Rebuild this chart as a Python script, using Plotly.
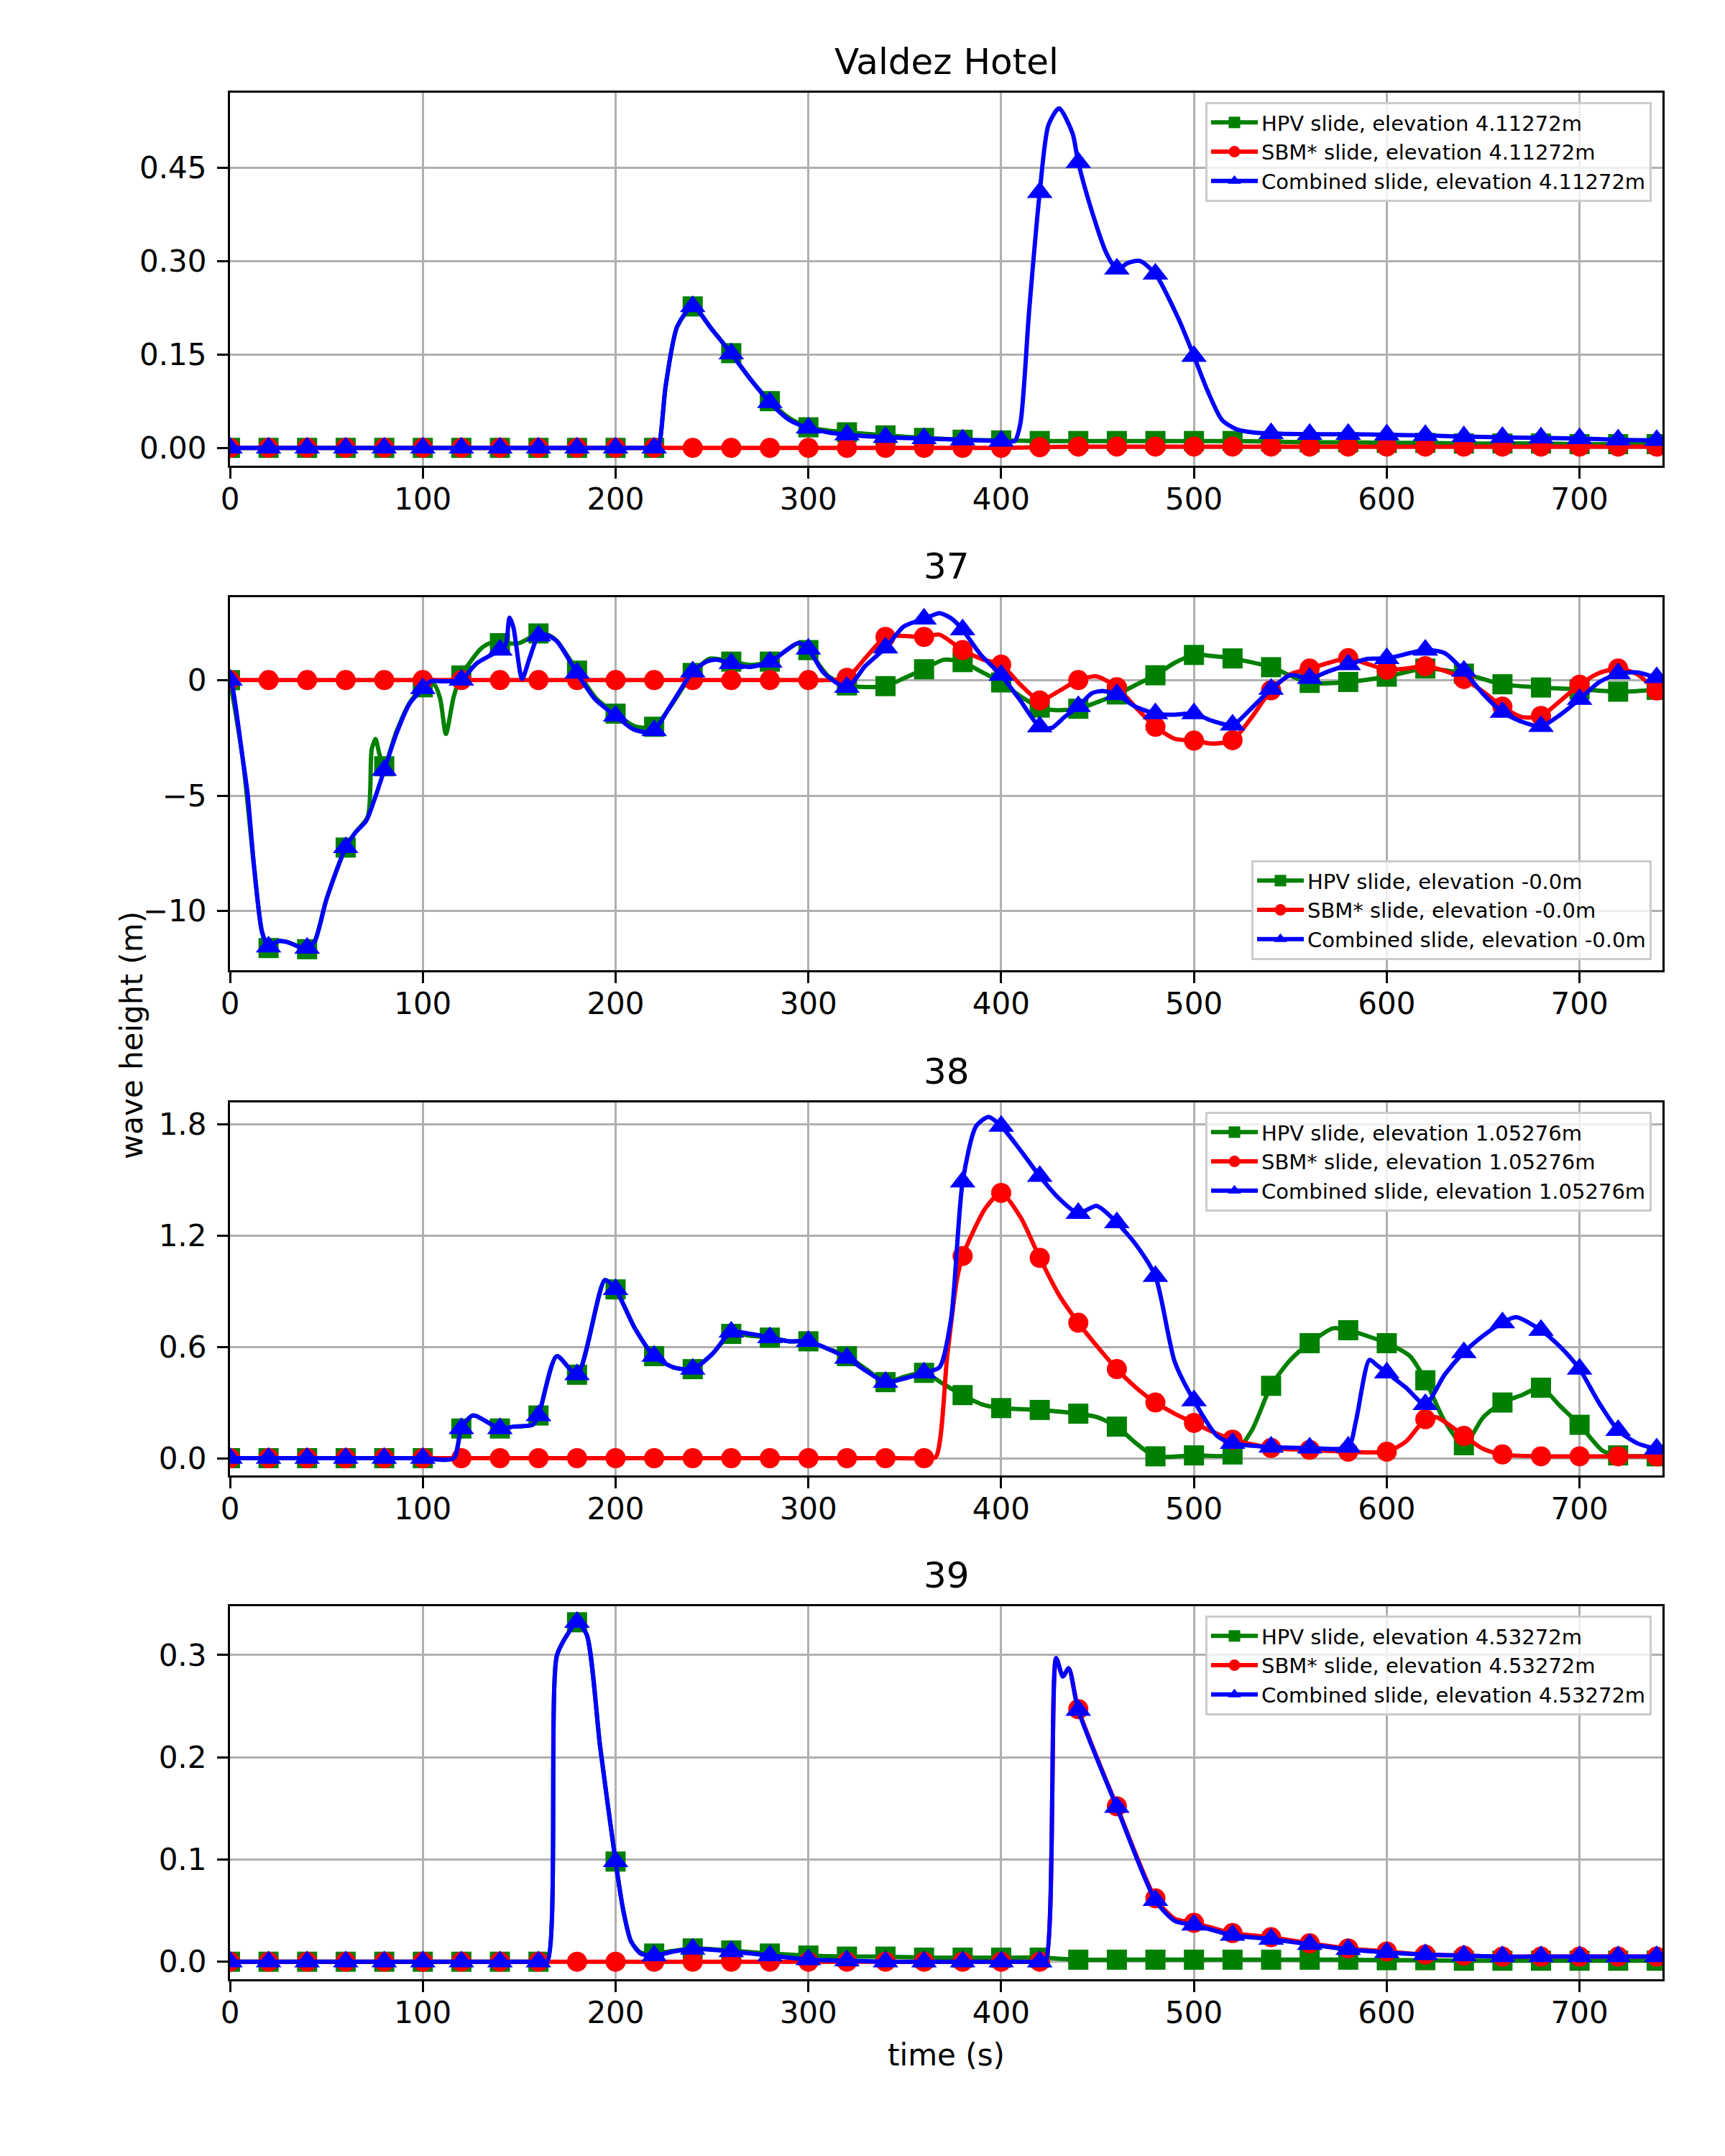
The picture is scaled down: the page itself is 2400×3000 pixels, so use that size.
import plotly.graph_objects as go

# ---------------- DATA ----------------
SERIES_NAMES = ["HPV slide", "SBM* slide", "Combined slide"]
PANEL_TITLES = ["Valdez Hotel", "37", "38", "39"]
ELEVATIONS = ["4.11272m", "-0.0m", "1.05276m", "4.53272m"]
X_TICKS = [0, 100, 200, 300, 400, 500, 600, 700]
Y_TICKVALS = [[0.0, 0.15, 0.30, 0.45], [0, -5, -10], [0.0, 0.6, 1.2, 1.8], [0.0, 0.1, 0.2, 0.3]]
Y_TICKTEXT = [["0.00", "0.15", "0.30", "0.45"], ["0", "\u22125", "\u221210"],
              ["0.0", "0.6", "1.2", "1.8"], ["0.0", "0.1", "0.2", "0.3"]]

# (time s, wave height m)
P1_HPV = [(0, 0), (20, 0), (40, 0), (60, 0), (80, 0), (100, 0), (120, 0), (140, 0), (160, 0), (180, 0),
          (200, 0), (220, 0), (222, 0), (226, 0.10), (232, 0.195), (240, 0.227), (250, 0.19), (260, 0.152),
          (270, 0.11), (280, 0.075), (290, 0.048), (300, 0.033), (310, 0.028), (320, 0.025), (340, 0.020),
          (360, 0.016), (380, 0.013), (400, 0.012), (420, 0.011), (440, 0.011), (460, 0.011), (480, 0.011),
          (500, 0.011), (520, 0.011), (540, 0.010), (560, 0.009), (580, 0.009), (600, 0.008), (620, 0.008),
          (640, 0.007), (660, 0.007), (680, 0.007), (700, 0.006), (720, 0.006), (740, 0.006), (743, 0.006)]
P1_SBM = [(0, 0), (20, 0), (40, 0), (60, 0), (80, 0), (100, 0), (120, 0), (140, 0), (160, 0), (180, 0),
          (200, 0), (220, 0), (240, 0), (260, 0), (280, 0), (300, 0), (320, 0), (340, 0), (360, 0), (380, 0),
          (400, 0), (420, 0.001), (440, 0.002), (460, 0.002), (480, 0.002), (500, 0.002), (520, 0.002),
          (540, 0.002), (560, 0.002), (580, 0.002), (600, 0.002), (620, 0.002), (640, 0.002), (660, 0.002),
          (680, 0.002), (700, 0.002), (720, 0.002), (740, 0.002), (743, 0.002)]
P1_COMB = [(0, 0), (20, 0), (40, 0), (60, 0), (80, 0), (100, 0), (120, 0), (140, 0), (160, 0), (180, 0),
           (200, 0), (220, 0), (222, 0), (226, 0.10), (232, 0.195), (240, 0.227), (250, 0.19), (260, 0.151),
           (270, 0.11), (280, 0.073), (290, 0.045), (300, 0.032), (310, 0.025), (320, 0.021), (340, 0.017),
           (360, 0.015), (380, 0.013), (400, 0.011), (407, 0.011), (410, 0.04), (414.5, 0.22), (420, 0.41),
           (424.5, 0.518), (430, 0.545), (437, 0.505), (440, 0.458), (447, 0.38), (454.5, 0.313), (460, 0.287),
           (466, 0.297), (472, 0.300), (480, 0.279), (492, 0.207), (500, 0.147), (507, 0.092), (514.5, 0.045),
           (522, 0.030), (530, 0.025), (540, 0.023), (560, 0.022), (580, 0.022), (600, 0.021), (620, 0.020),
           (640, 0.018), (660, 0.017), (680, 0.016), (700, 0.015), (720, 0.013), (740, 0.012), (743, 0.012)]

P2_HPV = [(0, 0), (6.6, -3.4), (12.5, -8.1), (16.6, -10.9), (20, -11.6), (25, -11.3), (30, -11.35),
          (36, -11.55), (40, -11.65), (44, -11.3), (50, -9.5), (60, -7.25), (65, -6.6), (71.5, -5.9),
          (73.5, -3.0), (75.5, -2.55), (77.5, -3.2), (80, -3.73), (86, -2.3), (93, -1.0), (100, -0.31),
          (106, -0.2), (109, -0.8), (112, -2.33), (116, -0.73), (120, 0.2), (130, 1.35), (135, 1.6),
          (140, 1.6), (150, 1.6), (160, 2.02), (166, 1.92), (170, 1.65), (180, 0.41), (190, -0.8),
          (200, -1.45), (210, -2.0), (220, -2.02), (230, -0.95), (240, 0.31), (249, 0.93), (260, 0.80),
          (270, 0.66), (280, 0.80), (295, 1.6), (300, 1.30), (310, 0.2), (320, -0.23), (330, -0.3),
          (340, -0.26), (350, 0.1), (360, 0.47), (370, 0.88), (380, 0.78), (390, 0.35), (400, -0.1),
          (410, -0.7), (420, -1.19), (429, -1.3), (440, -1.24), (450, -0.95), (460, -0.62), (470, -0.2),
          (480, 0.21), (490, 0.75), (500, 1.09), (510, 1.04), (520, 0.94), (540, 0.56), (550, 0.2),
          (560, -0.12), (580, -0.08), (600, 0.15), (620, 0.5), (640, 0.28), (660, -0.18), (680, -0.32),
          (700, -0.4), (720, -0.5), (740, -0.42), (743, -0.4)]
P2_SBM = [(0, 0), (20, 0), (40, 0), (60, 0), (80, 0), (100, 0), (120, 0), (140, 0), (160, 0), (180, 0),
          (200, 0), (220, 0), (240, 0), (260, 0), (280, 0), (300, 0), (310, 0), (320, 0.1), (330, 1.0),
          (340, 1.87), (348, 1.92), (360, 1.87), (368, 1.97), (380, 1.3), (391, 0.88), (400, 0.67),
          (410, -0.2), (420, -0.88), (429, -0.52), (440, 0), (449.5, 0.16), (460, -0.31), (470, -1.2),
          (480, -2.02), (490, -2.54), (500, -2.62), (510, -2.75), (520, -2.6), (530, -1.6), (540, -0.44),
          (550, 0.25), (560, 0.5), (570, 0.75), (580, 0.95), (590, 0.7), (600, 0.45), (610, 0.5),
          (620, 0.6), (630, 0.4), (640, 0.05), (650, -0.5), (660, -1.15), (670, -1.6), (680, -1.55),
          (690, -0.9), (700, -0.2), (710, 0.3), (720, 0.5), (730, 0.25), (740, -0.45), (743, -0.55)]
P2_COMB = [(0, 0), (1.3, -0.3), (6.6, -3.4), (9.1, -4.9), (12.5, -8.1), (16.6, -10.9), (20, -11.55),
           (25, -11.3), (30, -11.35), (36, -11.55), (40, -11.6), (44, -11.3), (50, -9.5), (60, -7.25),
           (65, -6.6), (70.6, -6.1), (74.8, -5.2), (80, -3.9), (86.4, -2.3), (93, -1.04), (100, -0.36),
           (104, -0.05), (110, -0.05), (116, -0.05), (120, 0), (128, 0.73), (140, 1.3), (143, 1.55),
           (145, 2.7), (147, 2.28), (151.5, 0.05), (155.3, 0.93), (160, 1.92), (163.6, 1.97), (169.4, 1.7),
           (180, 0.31), (189.4, -0.83), (200, -1.55), (209, -2.12), (216, -2.26), (220, -2.18), (229, -1.04),
           (240, 0.36), (247.5, 0.81), (252.5, 0.88), (260, 0.72), (269, 0.57), (280, 0.78), (294.7, 1.61),
           (300, 1.35), (308, 0.31), (320, -0.31), (329.6, 0.62), (340, 1.4), (349.6, 2.33), (360, 2.65),
           (368, 2.9), (374.5, 2.65), (380, 2.18), (389.5, 1.09), (400, 0.21), (409.5, -0.83), (420, -2.02),
           (426.3, -2.07), (432.8, -1.6), (440, -1.14), (447, -0.57), (452.7, -0.47), (460, -0.62),
           (469.4, -1.14), (480, -1.45), (489.4, -1.5), (500, -1.45), (509.3, -1.76), (520, -1.94),
           (530, -1.2), (540, -0.39), (550, 0.22), (560, 0.08), (570, 0.39), (580, 0.67), (590, 0.92),
           (600, 0.94), (620, 1.3), (630, 1.17), (640, 0.39), (650, -0.6), (660, -1.39), (670, -1.8),
           (680, -2.0), (690, -1.5), (700, -0.83), (710, -0.1), (720, 0.28), (730, 0.33), (740, 0.11),
           (743, 0.05)]

P3_HPV = [(0, 0), (20, 0), (40, 0), (60, 0), (80, 0), (100, 0), (116, 0), (120, 0.16), (126, 0.23),
          (140, 0.16), (147, 0.17), (157, 0.18), (160, 0.23), (169.5, 0.55), (180, 0.45), (194.5, 0.96),
          (200, 0.91), (210, 0.7), (220, 0.55), (230, 0.49), (240, 0.48), (250, 0.56), (260, 0.67),
          (270, 0.66), (280, 0.65), (290, 0.63), (300, 0.63), (310, 0.59), (320, 0.55), (330, 0.48),
          (340, 0.41), (350, 0.44), (360, 0.46), (370, 0.40), (380, 0.34), (390, 0.29), (400, 0.27),
          (420, 0.26), (440, 0.24), (450, 0.22), (460, 0.17), (470, 0.08), (480, 0.01), (500, 0.015),
          (520, 0.02), (530, 0.15), (540, 0.39), (550, 0.53), (560, 0.62), (572, 0.70), (580, 0.69),
          (600, 0.62), (612, 0.55), (620, 0.42), (630, 0.2), (640, 0.07), (650, 0.22), (660, 0.30),
          (670, 0.34), (680, 0.38), (690, 0.28), (700, 0.18), (712, 0.04), (720, 0.015), (740, 0.01),
          (743, 0.01)]
P3_SBM = [(0, 0), (20, 0), (40, 0), (60, 0), (80, 0), (100, 0), (120, 0), (140, 0), (160, 0), (180, 0),
          (200, 0), (220, 0), (240, 0), (260, 0), (280, 0), (300, 0), (320, 0), (340, 0), (360, 0),
          (366, 0.005), (372, 0.55), (377, 0.96), (380, 1.09), (392, 1.35), (400, 1.43), (410, 1.3),
          (420, 1.08), (430, 0.88), (440, 0.73), (450, 0.6), (460, 0.48), (470, 0.38), (480, 0.30),
          (490, 0.24), (500, 0.19), (510, 0.14), (520, 0.10), (540, 0.055), (560, 0.045), (580, 0.035),
          (600, 0.035), (610, 0.09), (620, 0.21), (626, 0.22), (640, 0.12), (650, 0.05), (660, 0.02),
          (680, 0.01), (700, 0.01), (720, 0.01), (740, 0.01), (743, 0.01)]
P3_COMB = [(0, 0), (20, 0), (40, 0), (60, 0), (80, 0), (100, 0), (116, 0), (120, 0.16), (126, 0.23),
           (140, 0.16), (147, 0.17), (157, 0.18), (160, 0.23), (169.5, 0.55), (180, 0.45), (194.5, 0.96),
           (200, 0.91), (210, 0.7), (220, 0.55), (230, 0.49), (240, 0.48), (250, 0.56), (260, 0.68),
           (270, 0.67), (280, 0.65), (290, 0.63), (300, 0.63), (310, 0.59), (320, 0.54), (330, 0.47),
           (340, 0.41), (350, 0.43), (360, 0.46), (368, 0.49), (374, 0.75), (380, 1.49), (387, 1.79),
           (393.5, 1.84), (400, 1.79), (410, 1.66), (420, 1.52), (430, 1.4), (440, 1.32), (449.5, 1.36),
           (460, 1.27), (470, 1.15), (480, 0.98), (490, 0.52), (500, 0.31), (512, 0.12), (520, 0.08),
           (540, 0.06), (560, 0.055), (580, 0.06), (584, 0.2), (591, 0.53), (595, 0.5), (600, 0.46),
           (610, 0.38), (620, 0.29), (630, 0.45), (640, 0.57), (650, 0.66), (660, 0.73), (667, 0.76),
           (680, 0.69), (690, 0.6), (700, 0.48), (710, 0.3), (720, 0.15), (730, 0.08), (740, 0.05),
           (743, 0.045)]

P4_HPV = [(0, 0), (20, 0), (40, 0), (60, 0), (80, 0), (100, 0), (120, 0), (140, 0), (160, 0), (164.5, 0),
          (169.5, 0.299), (175, 0.32), (180, 0.332), (185, 0.32), (192, 0.21), (200, 0.098), (204, 0.05),
          (208, 0.02), (213, 0.009), (220, 0.008), (240, 0.013), (260, 0.011), (280, 0.008), (300, 0.006),
          (320, 0.005), (340, 0.005), (360, 0.004), (380, 0.004), (400, 0.004), (420, 0.004), (440, 0.002),
          (460, 0.002), (480, 0.002), (500, 0.002), (520, 0.002), (540, 0.002), (560, 0.002), (580, 0.002),
          (600, 0.0015), (620, 0.0015), (640, 0.001), (660, 0.001), (680, 0.001), (700, 0.001),
          (720, 0.001), (740, 0.001), (743, 0.001)]
P4_SBM = [(0, 0), (20, 0), (40, 0), (60, 0), (80, 0), (100, 0), (120, 0), (140, 0), (160, 0), (180, 0),
          (200, 0), (220, 0), (240, 0), (260, 0), (280, 0), (300, 0), (320, 0), (340, 0), (360, 0), (380, 0),
          (400, 0), (420, 0), (423, 0), (428.5, 0.297), (432, 0.279), (435, 0.287), (440, 0.247),
          (460, 0.152), (480, 0.062), (490, 0.042), (500, 0.038), (520, 0.028), (540, 0.024), (560, 0.018),
          (580, 0.013), (600, 0.010), (620, 0.007), (640, 0.006), (660, 0.005), (680, 0.005), (700, 0.005),
          (720, 0.005), (740, 0.005), (743, 0.005)]
P4_COMB = [(0, 0), (20, 0), (40, 0), (60, 0), (80, 0), (100, 0), (120, 0), (140, 0), (160, 0), (164.5, 0),
           (169.5, 0.299), (175, 0.32), (180, 0.332), (185, 0.32), (192, 0.21), (200, 0.098), (204, 0.05),
           (208, 0.02), (213, 0.008), (220, 0.006), (230, 0.010), (240, 0.0125), (260, 0.010), (280, 0.006),
           (300, 0.002), (320, 0.001), (340, 0), (360, 0), (380, 0), (400, 0), (420, 0), (423, 0),
           (428.5, 0.297), (432, 0.279), (435, 0.287), (440, 0.246), (460, 0.151), (480, 0.060),
           (490, 0.040), (500, 0.036), (520, 0.026), (540, 0.022), (560, 0.017), (580, 0.012), (600, 0.009),
           (620, 0.007), (640, 0.006), (660, 0.005), (680, 0.005), (700, 0.005), (720, 0.005), (740, 0.005),
           (743, 0.005)]

PANELS = [(P1_HPV, P1_SBM, P1_COMB), (P2_HPV, P2_SBM, P2_COMB),
          (P3_HPV, P3_SBM, P3_COMB), (P4_HPV, P4_SBM, P4_COMB)]

# ---------------- STYLE / LAYOUT ----------------
OFF = 8  # page body margin: screen px = figure px + OFF
W, H = 2400, 3000
ML, MR, MT, MB = 320 - OFF, 95, 129 - OFF, 254
PH = H - MT - MB
PW = W - ML - MR
PANEL_TOPS = [129, 831, 1534, 2235]  # screen px
PANEL_H = 519
X_RANGE = [0, 743]
Y_RANGES = [[-0.0286, 0.570], [-12.56, 3.59], [-0.093, 1.918], [-0.0171, 0.3477]]
COLORS = ["#008000", "#ff0000", "#0000ff"]
SYMBOLS = ["square", "circle", "triangle-up"]
MSIZES = [28, 28, 31]
FONT = "DejaVu Sans"
LW = 6


def py(screen_pix):
    return 1 - (screen_pix - OFF - MT) / PH


def px(screen_pix):
    return (screen_pix - OFF - ML) / PW


fig = go.Figure()
layout = dict(width=W, height=H, margin=dict(l=ML, r=MR, t=MT, b=MB, autoexpand=False),
              paper_bgcolor="white", plot_bgcolor="white", font=dict(family=FONT, color="black"))
annotations = []
legend_pos = [(py(142), "top"), (py(1336), "bottom"), (py(1547), "top"), (py(2248), "top")]

for i, series in enumerate(PANELS):
    k = "" if i == 0 else str(i + 1)
    xa, ya = "x" + k, "y" + k
    lg = "legend" + k
    for j, data in enumerate(series):
        ts = [p[0] for p in data]
        vs = [p[1] for p in data]
        mk = [p for p in data if p[0] % 20 == 0 and p[0] <= 740]
        fig.add_trace(go.Scatter(x=ts, y=vs, mode="lines", xaxis=xa, yaxis=ya, showlegend=False,
                                 line=dict(color=COLORS[j], width=LW, shape="spline", smoothing=0.7),
                                 hoverinfo="skip"))
        fig.add_trace(go.Scatter(x=[p[0] for p in mk], y=[p[1] for p in mk], mode="markers",
                                 xaxis=xa, yaxis=ya, showlegend=False,
                                 marker=dict(color=COLORS[j], symbol=SYMBOLS[j], size=MSIZES[j],
                                             line=dict(width=0))))
    for j in range(3):
        fig.add_trace(go.Scatter(x=[None], y=[None], mode="lines+markers", xaxis=xa, yaxis=ya,
                                 name=f"{SERIES_NAMES[j]}, elevation {ELEVATIONS[i]}", legend=lg,
                                 line=dict(color=COLORS[j], width=LW),
                                 marker=dict(color=COLORS[j], symbol=SYMBOLS[j], size=MSIZES[j])))
    top = PANEL_TOPS[i]
    dom = [py(top + PANEL_H), py(top)]
    axis_common = dict(showline=True, mirror=True, linecolor="black", linewidth=3.3,
                       ticks="outside", ticklen=15, tickwidth=3.3, tickcolor="black",
                       showgrid=True, gridcolor="#b0b0b0", gridwidth=3.3, zeroline=False,
                       tickfont=dict(family=FONT, size=42, color="black"))
    layout["xaxis" + k] = dict(axis_common, domain=[0, 1], anchor=ya, range=X_RANGE,
                               tickvals=X_TICKS, ticktext=[str(v) for v in X_TICKS],
                               ticklabelstandoff=-8)
    layout["yaxis" + k] = dict(axis_common, domain=dom, anchor=xa, range=Y_RANGES[i],
                               tickvals=Y_TICKVALS[i], ticktext=Y_TICKTEXT[i],
                               ticklabelstandoff=6)
    ly, yanc = legend_pos[i]
    layout[lg] = dict(x=px(2298), y=ly, xanchor="right", yanchor=yanc,
                      bgcolor="rgba(255,255,255,0.8)", bordercolor="#cccccc", borderwidth=3,
                      font=dict(family=FONT, size=29, color="black"), itemwidth=65,
                      tracegroupgap=0)
    annotations.append(dict(text=PANEL_TITLES[i], xref="paper", yref="paper", x=0.5, y=dom[1],
                            xanchor="center", yanchor="bottom", yshift=12, showarrow=False,
                            font=dict(family=FONT, size=50, color="black")))

annotations.append(dict(text="wave height (m)", xref="paper", yref="paper", x=px(183), y=py(1441),
                        xanchor="center", yanchor="middle", textangle=-90, showarrow=False,
                        font=dict(family=FONT, size=42, color="black")))
annotations.append(dict(text="time (s)", xref="paper", yref="paper", x=0.5, y=0,
                        xanchor="center", yanchor="top", yshift=-79, showarrow=False,
                        font=dict(family=FONT, size=42, color="black")))
layout["annotations"] = annotations
fig.update_layout(**layout)
fig.write_html("out.html")
